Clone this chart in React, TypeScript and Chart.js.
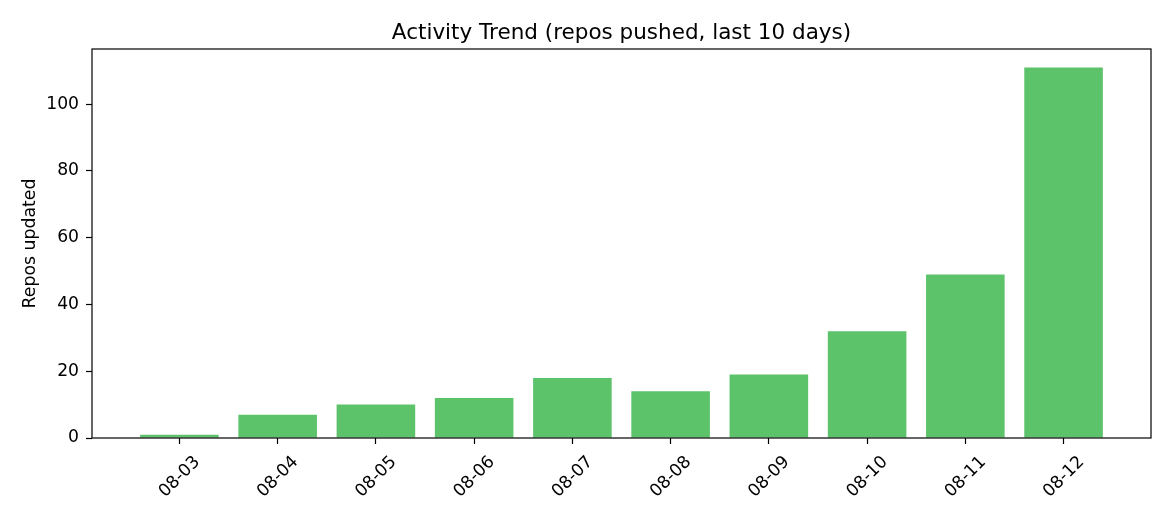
import { useEffect, useRef } from 'react';
import { Chart, registerables } from 'chart.js';

Chart.register(...registerables);

// dados
const days = ['08-03', '08-04', '08-05', '08-06', '08-07', '08-08', '08-09', '08-10', '08-11', '08-12'];
const reposPushed = [1, 7, 10, 12, 18, 14, 19, 32, 49, 111];
const yTicks = [0, 20, 40, 60, 80, 100];
const chartTitle = 'Activity Trend (repos pushed, last 10 days)';

const FONT = 'DejaVu Sans';

// moldura completa + título centrado na área do gráfico (como no matplotlib)
const frame = {
  id: 'frame',
  afterDraw(chart: Chart) {
    const { ctx, chartArea: a } = chart;
    ctx.save();
    ctx.strokeStyle = '#000';
    ctx.lineWidth = 1.2;
    ctx.strokeRect(a.left, a.top, a.right - a.left, a.bottom - a.top);
    ctx.fillStyle = '#000';
    ctx.font = `21.5px ${FONT}`;
    ctx.textAlign = 'center';
    ctx.textBaseline = 'alphabetic';
    ctx.fillText(chartTitle, (a.left + a.right) / 2, 39);
    ctx.restore();
  },
};

export default function App() {
  const chartRef = useRef<HTMLCanvasElement>(null);
  const chartInstance = useRef<Chart | null>(null);

  useEffect(() => {
    document.body.style.margin = '0';
    if (!chartRef.current) return;
    if (chartInstance.current) chartInstance.current.destroy();

    chartInstance.current = new Chart(chartRef.current, {
      type: 'bar',
      data: {
        datasets: [{
          data: reposPushed.map((v, i) => ({ x: i, y: v })),
          backgroundColor: '#5cc36b',
          borderWidth: 0,
          barPercentage: 0.8,
          categoryPercentage: 1,
        }],
      },
      options: {
        animation: false,
        responsive: true,
        maintainAspectRatio: false,
        layout: { padding: { left: 0, right: 19, top: 49, bottom: 0 } },
        plugins: {
          legend: { display: false },
          tooltip: { enabled: false },
          title: { display: false },
        },
        scales: {
          x: {
            type: 'linear',
            min: -0.89,
            max: 9.89,
            offset: false,
            afterBuildTicks: (scale: any) => {
              scale.ticks = days.map((_, i) => ({ value: i }));
            },
            afterFit: (scale: any) => { scale.height = 82; },
            grid: { display: true, offset: false, drawOnChartArea: false, tickLength: 6, color: '#000', tickWidth: 1.2 },
            border: { display: false },
            ticks: {
              color: '#000',
              font: { family: FONT, size: 17.2 },
              minRotation: 45,
              maxRotation: 45,
              labelOffset: 18,
              padding: 8,
              autoSkip: false,
              callback: (v: any) => days[v] ?? '',
            },
          },
          y: {
            min: 0,
            max: 116.55,
            afterBuildTicks: (scale: any) => {
              scale.ticks = yTicks.map((v) => ({ value: v }));
            },
            afterFit: (scale: any) => { scale.width = 92; },
            grid: { display: true, drawOnChartArea: false, tickLength: 6, color: '#000', tickWidth: 1.2 },
            border: { display: false },
            ticks: {
              color: '#000',
              font: { family: FONT, size: 17.2 },
              padding: 7,
            },
            title: {
              display: true,
              text: 'Repos updated',
              color: '#000',
              font: { family: FONT, size: 17.3 },
              padding: { top: 20, bottom: 0 },
            },
          },
        },
      },
      plugins: [frame],
    });

    return () => {
      if (chartInstance.current) {
        chartInstance.current.destroy();
        chartInstance.current = null;
      }
    };
  }, []);

  return (
    <div style={{ width: 1170, height: 520, position: 'relative', background: '#fff' }}>
      <canvas ref={chartRef} />
    </div>
  );
}
